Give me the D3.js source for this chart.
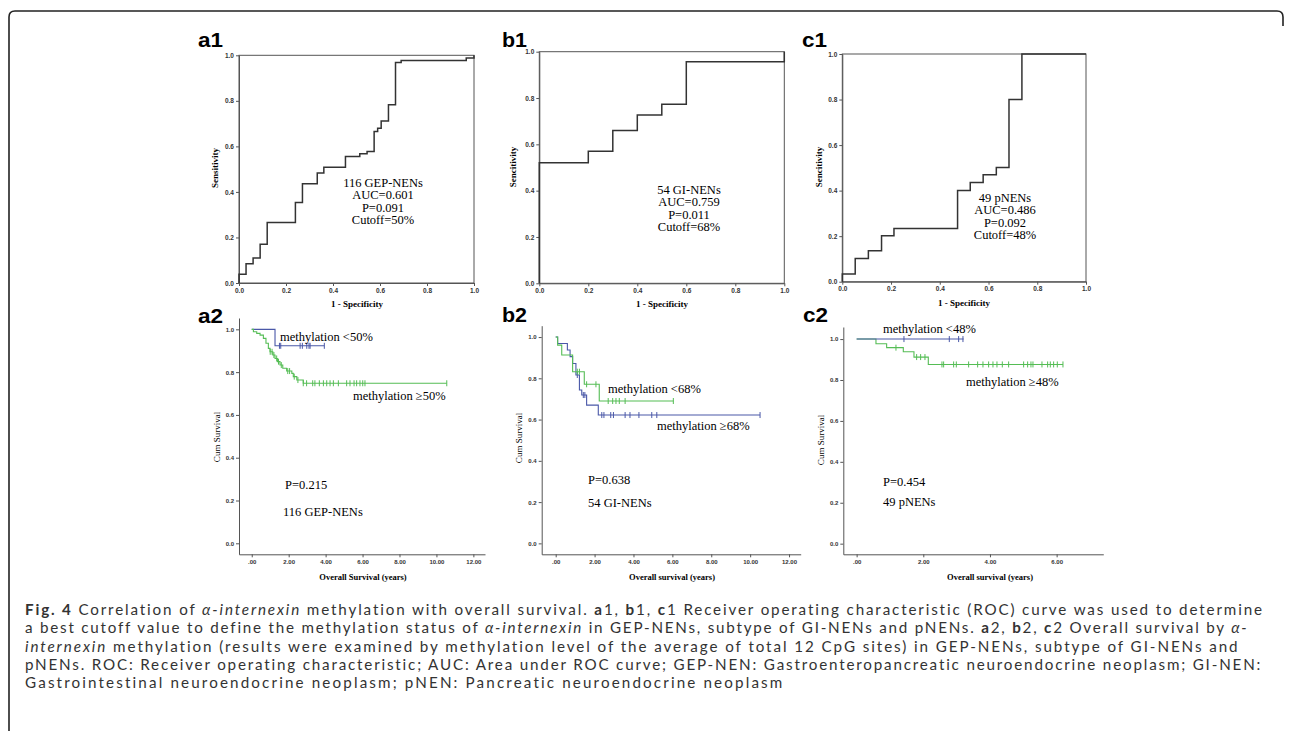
<!DOCTYPE html>
<html>
<head>
<meta charset="utf-8">
<script src="https://cdn.jsdelivr.net/npm/d3@7"></script>
<style>
  html, body { margin: 0; padding: 0; background: #fff; }
  svg { display: block; }
</style>
</head>
<body>
<script>
// ROC step points [1 - specificity, sensitivity]
const rocA1 = [[0,0],[0,0.038],[0.03,0.085],[0.06,0.11],[0.09,0.17],[0.12,0.266],[0.24,0.353],[0.27,0.436],
  [0.333,0.483],[0.361,0.508],[0.453,0.556],[0.514,0.568],[0.545,0.578],[0.575,0.665],[0.59,0.68],
  [0.605,0.712],[0.636,0.783],[0.666,0.968],[0.69,0.977],[0.967,0.988],[1,1]];
const rocB1 = [[0,0],[0,0.521],[0.2,0.57],[0.3,0.66],[0.4,0.727],[0.5,0.773],[0.6,0.957],[1,1]];
const rocC1 = [[0,0],[0,0.034],[0.053,0.102],[0.107,0.136],[0.161,0.202],[0.212,0.234],[0.473,0.401],
  [0.525,0.436],[0.578,0.47],[0.632,0.502],[0.684,0.8],[0.737,1],[1,1]];
const rocTicks = [0, 0.2, 0.4, 0.6, 0.8, 1.0];
const noteA1 = ['116 GEP-NENs', 'AUC=0.601', 'P=0.091', 'Cutoff=50%'];
const noteB1 = ['54 GI-NENs', 'AUC=0.759', 'P=0.011', 'Cutoff=68%'];
const noteC1 = ['49 pNENs', 'AUC=0.486', 'P=0.092', 'Cutoff=48%'];

// Kaplan-Meier steps [years, cumulative survival] and censored times
const kmA2Low = [[0,1],[1.26,0.923],[3.93,0.923]];
const kmA2LowCens = [1.50,1.57,2.62,2.74,2.98,3.10,3.16,3.93];
const kmA2High = [[0,1],[0.09,0.989],[0.27,0.981],[0.45,0.973],[0.63,0.958],[0.77,0.935],[0.9,0.911],
  [0.99,0.895],[1.14,0.88],[1.26,0.864],[1.39,0.849],[1.53,0.833],[1.68,0.818],[1.89,0.805],
  [2.17,0.794],[2.25,0.779],[2.44,0.763],[2.79,0.748],[10.56,0.748]];
const kmA2HighCens = [1.0,1.1,1.2,1.35,1.45,1.6,1.95,2.05,2.3,2.5,2.79,2.97,3.30,3.42,3.66,3.88,4.06,
  4.24,4.42,4.69,5.14,5.32,5.54,5.68,5.86,6.01,6.13,10.56];

const kmB2Low = [[0,1],[0.10,0.961],[0.31,0.913],[0.87,0.832],[1.47,0.771],[2.24,0.690],[6.05,0.690]];
const kmB2LowCens = [1.11,1.22,1.59,2.07,2.70,2.93,3.10,3.27,3.57,6.05];
const kmB2High = [[0,1],[0.10,0.969],[0.60,0.937],[0.74,0.905],[0.87,0.872],[1.04,0.816],[1.22,0.743],
  [1.34,0.719],[1.59,0.670],[2.19,0.622],[10.51,0.622]];
const kmB2HighCens = [1.11,1.42,1.50,2.37,2.48,2.83,2.97,3.57,3.82,4.28,4.94,5.2,10.51];

const kmC2Low = [[0,1],[3.21,1]];
const kmC2LowCens = [1.42,2.78,3.06,3.19];
const kmC2High = [[0,1],[0.58,0.977],[0.90,0.958],[1.40,0.938],[1.72,0.912],[2.15,0.876],[6.19,0.876]];
const kmC2HighCens = [1.18,1.80,1.92,2.05,2.56,2.61,2.91,2.99,3.36,3.63,3.79,3.96,4.09,4.21,4.37,4.56,
  5.01,5.13,5.23,5.29,5.56,5.73,5.81,5.91,6.02,6.19];

const kmYTicks = [0, 0.2, 0.4, 0.6, 0.8, 1.0];
const kmXTicksLong = [0, 2, 4, 6, 8, 10, 12];
const kmXTicksShort = [0, 2, 4, 6];

const blue = '#4a58a8';
const green = '#55bd55';
const serif = '"Liberation Serif", "Times New Roman", serif';
const sans = '"Liberation Sans", Arial, sans-serif';

const svg = d3.select('body').append('svg')
    .attr('width', 1292)
    .attr('height', 731);

// outer figure frame
svg.append('path')
    .attr('d', 'M9,731 V17 Q9,11 15,11 H1277 Q1283,11 1283,17 V26')
    .attr('fill', 'none')
    .attr('stroke', '#222')
    .attr('stroke-width', 1.6);

const panelLetters = [['a1',198,47],['b1',502,47],['c1',802,47],['a2',198,323],['b2',502,322],['c2',803,322]];
svg.selectAll('text.letter')
    .data(panelLetters).enter()
    .append('text')
    .attr('class', 'letter')
    .attr('x', d => d[1])
    .attr('y', d => d[2])
    .attr('textLength', 25)
    .attr('lengthAdjust', 'spacingAndGlyphs')
    .style('font-family', sans)
    .style('font-weight', 'bold')
    .style('font-size', '20px')
    .text(d => d[0]);

function styleAxis(g, size) {
    g.selectAll('path, line').attr('stroke', '#555');
    g.selectAll('text')
        .style('font-family', sans)
        .style('font-weight', 'bold')
        .style('font-size', size + 'px')
        .attr('fill', '#333');
}

// ROC panels
const rocPanels = [
    {data: rocA1, xr: [239, 474], yr: [283, 55.3], ytitle: 'Sensitivity', yt: [215, 168], xt: [357, 307],
     note: noteA1, nx: 383, ny: 187},
    {data: rocB1, xr: [539.3, 784.3], yr: [283.3, 51.7], ytitle: 'Sencitivity', yt: [513, 167], xt: [662, 307],
     note: noteB1, nx: 689, ny: 194},
    {data: rocC1, xr: [842.3, 1086], yr: [281.7, 54], ytitle: 'Sencitivity', yt: [819, 167], xt: [964, 306],
     note: noteC1, nx: 1005, ny: 202},
];

rocPanels.forEach(p => {
    const x = d3.scaleLinear().domain([0, 1]).range(p.xr);
    const y = d3.scaleLinear().domain([0, 1]).range(p.yr);
    const g = svg.append('g');

    g.append('rect')
        .attr('x', p.xr[0]).attr('y', p.yr[1])
        .attr('width', p.xr[1] - p.xr[0]).attr('height', p.yr[0] - p.yr[1])
        .attr('fill', 'none').attr('stroke', '#555').attr('stroke-width', 1);

    g.append('g')
        .attr('transform', `translate(0,${p.yr[0]})`)
        .call(d3.axisBottom(x).tickValues(rocTicks).tickFormat(d3.format('.1f')).tickSize(3).tickSizeOuter(0).tickPadding(2))
        .call(a => styleAxis(a, 6.5));
    g.append('g')
        .attr('transform', `translate(${p.xr[0]},0)`)
        .call(d3.axisLeft(y).tickValues(rocTicks).tickFormat(d3.format('.1f')).tickSize(3).tickSizeOuter(0).tickPadding(2))
        .call(a => styleAxis(a, 6.5));

    g.append('path')
        .datum(p.data)
        .attr('fill', 'none')
        .attr('stroke', '#333')
        .attr('stroke-width', 1.5)
        .attr('d', d3.line().x(d => x(d[0])).y(d => y(d[1])).curve(d3.curveStepAfter));

    g.append('text')
        .attr('transform', `translate(${p.yt[0]},${p.yt[1]}) rotate(-90)`)
        .attr('text-anchor', 'middle')
        .attr('dominant-baseline', 'central')
        .style('font-family', serif).style('font-weight', 'bold').style('font-size', '9px')
        .text(p.ytitle);
    g.append('text')
        .attr('x', p.xt[0]).attr('y', p.xt[1])
        .attr('text-anchor', 'middle')
        .style('font-family', serif).style('font-weight', 'bold').style('font-size', '9px')
        .text('1 - Specificity');

    g.selectAll('text.note')
        .data(p.note).enter()
        .append('text')
        .attr('class', 'note')
        .attr('x', p.nx)
        .attr('y', (d, i) => p.ny + i * 12.3)
        .attr('text-anchor', 'middle')
        .style('font-family', serif).style('font-size', '12.5px')
        .text(d => d);
});

// Kaplan-Meier panels
const kmPanels = [
    {xd: [-0.69, 12.63], xr: [239, 485], yd: [-0.0514, 1.053], yr: [554.3, 318], xticks: kmXTicksLong,
     curves: [{steps: kmA2Low, cens: kmA2LowCens, color: blue}, {steps: kmA2High, cens: kmA2HighCens, color: green}],
     yt: [217, 437], xtitle: 'Overall Survival (years)', xt: [363, 580],
     labels: [['methylation <50%', 280, 341], ['methylation \u226550%', 353, 400], ['P=0.215', 285, 489], ['116 GEP-NENs', 283, 516]]},
    {xd: [-0.72, 12.6], xr: [541.7, 800.7], yd: [-0.053, 1.055], yr: [554.3, 325.7], xticks: kmXTicksLong,
     curves: [{steps: kmB2High, cens: kmB2HighCens, color: blue}, {steps: kmB2Low, cens: kmB2LowCens, color: green}],
     yt: [519, 438], xtitle: 'Overall survival (years)', xt: [672, 580],
     labels: [['methylation <68%', 608, 393], ['methylation \u226568%', 657, 430], ['P=0.638', 588, 484], ['54 GI-NENs', 588, 507]]},
    {xd: [-0.4, 7.4], xr: [843.3, 1103.3], yd: [-0.052, 1.059], yr: [554.3, 327], xticks: kmXTicksShort,
     curves: [{steps: kmC2High, cens: kmC2HighCens, color: green}, {steps: kmC2Low, cens: kmC2LowCens, color: blue}],
     yt: [821, 440], xtitle: 'Overall survival (years)', xt: [990, 580],
     labels: [['methylation <48%', 883, 333], ['methylation \u226548%', 966, 386], ['P=0.454', 883, 486], ['49 pNENs', 883, 506]]},
];

kmPanels.forEach(p => {
    const x = d3.scaleLinear().domain(p.xd).range(p.xr);
    const y = d3.scaleLinear().domain(p.yd).range(p.yr);
    const g = svg.append('g');

    g.append('g')
        .attr('transform', `translate(0,${p.yr[0]})`)
        .call(d3.axisBottom(x).tickValues(p.xticks)
            .tickFormat(d => d === 0 ? '.00' : d.toFixed(2)).tickSize(3).tickSizeOuter(0).tickPadding(2))
        .call(a => styleAxis(a, 6));
    g.append('g')
        .attr('transform', `translate(${p.xr[0]},0)`)
        .call(d3.axisLeft(y).tickValues(kmYTicks).tickFormat(d3.format('.1f')).tickSize(3).tickSizeOuter(0).tickPadding(2))
        .call(a => styleAxis(a, 6));

    p.curves.forEach(c => {
        g.append('path')
            .datum(c.steps)
            .attr('fill', 'none')
            .attr('stroke', c.color)
            .attr('stroke-width', 1.1)
            .attr('d', d3.line().x(d => x(d[0])).y(d => y(d[1])).curve(d3.curveStepAfter));

        const survAt = t => {
            let s = c.steps[0][1];
            c.steps.forEach(d => { if (d[0] <= t) s = d[1]; });
            return s;
        };
        g.selectAll(null)
            .data(c.cens).enter()
            .append('line')
            .attr('x1', d => x(d)).attr('x2', d => x(d))
            .attr('y1', d => y(survAt(d)) - 3).attr('y2', d => y(survAt(d)) + 3)
            .attr('stroke', c.color)
            .attr('stroke-width', 1);
    });

    g.append('text')
        .attr('transform', `translate(${p.yt[0]},${p.yt[1]}) rotate(-90)`)
        .attr('text-anchor', 'middle')
        .attr('dominant-baseline', 'central')
        .style('font-family', serif).style('font-size', '9px')
        .text('Cum Survival');
    g.append('text')
        .attr('x', p.xt[0]).attr('y', p.xt[1])
        .attr('text-anchor', 'middle')
        .style('font-family', serif).style('font-weight', 'bold').style('font-size', '8.5px')
        .text(p.xtitle);

    g.selectAll('text.lab')
        .data(p.labels).enter()
        .append('text')
        .attr('class', 'lab')
        .attr('x', d => d[1]).attr('y', d => d[2])
        .style('font-family', serif).style('font-size', '12.5px')
        .text(d => d[0]);
});

// caption: each line is a list of [text, style]
const captionLines = [
    [['Fig. 4', 'b'], [' Correlation of ', ''], ['\u03b1-internexin', 'i'], [' methylation with overall survival. ', ''],
     ['a', 'b'], ['1, ', ''], ['b', 'b'], ['1, ', ''], ['c', 'b'],
     ['1 Receiver operating characteristic (ROC) curve was used to determine', '']],
    [['a best cutoff value to define the methylation status of ', ''], ['\u03b1-internexin', 'i'],
     [' in GEP-NENs, subtype of GI-NENs and pNENs. ', ''], ['a', 'b'], ['2, ', ''], ['b', 'b'], ['2, ', ''],
     ['c', 'b'], ['2 Overall survival by ', ''], ['\u03b1-', 'i']],
    [['internexin', 'i'], [' methylation (results were examined by methylation level of the average of total 12 CpG sites) in GEP-NENs, subtype of GI-NENs and', '']],
    [['pNENs. ROC: Receiver operating characteristic; AUC: Area under ROC curve; GEP-NEN: Gastroenteropancreatic neuroendocrine neoplasm; GI-NEN:', '']],
    [['Gastrointestinal neuroendocrine neoplasm; pNEN: Pancreatic neuroendocrine neoplasm', '']],
];
// widths each caption line spans in the reference
const captionWidths = [1240, 1223, 1215, 1238, 760];

const caption = svg.append('g')
    .attr('fill', '#333')
    .style('font-family', 'Lato, "Open Sans", sans-serif')
    .style('font-size', '15.2px');
captionLines.forEach((line, i) => {
    const t = caption.append('text')
        .attr('x', 25)
        .attr('y', 615 + i * 18.3);
    t.selectAll('tspan')
        .data(line).enter()
        .append('tspan')
        .style('font-weight', d => d[1] === 'b' ? 'bold' : null)
        .style('font-style', d => d[1] === 'i' ? 'italic' : null)
        .style('white-space', 'pre')
        .text(d => d[0]);
    // spread letters so the line reaches its reference width
    const natural = t.node().getComputedTextLength();
    const chars = line.reduce((n, d) => n + d[0].length, 0);
    if (natural > 0 && natural < captionWidths[i]) {
        t.style('letter-spacing', ((captionWidths[i] - natural) / chars).toFixed(3) + 'px');
    }
});
</script>
</body>
</html>
